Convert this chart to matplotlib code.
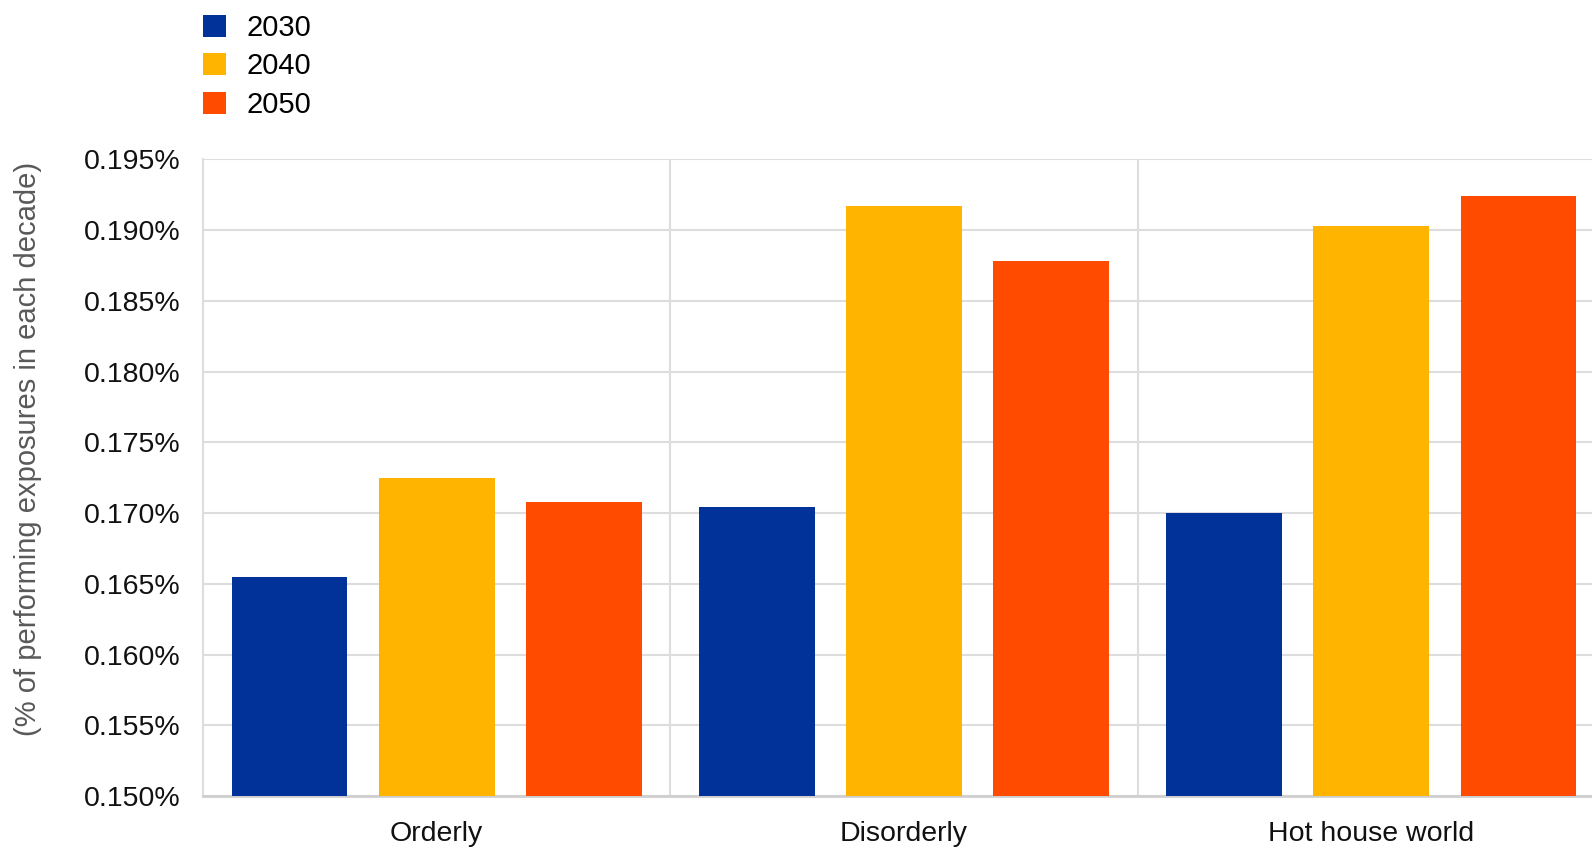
import matplotlib
matplotlib.use("Agg")
import matplotlib.pyplot as plt
from matplotlib.patches import Patch
from matplotlib.ticker import FuncFormatter, MultipleLocator
import numpy as np

scenarios = ["Orderly", "Disorderly", "Hot house world"]
years = ["2030", "2040", "2050"]
values_2030 = [0.1655, 0.1704, 0.1700]
values_2040 = [0.1725, 0.1917, 0.1903]
values_2050 = [0.1708, 0.1878, 0.1924]
colors = ["#003299", "#FFB400", "#FF4B00"]
y_label = "(% of performing exposures in each decade)"

plt.rcParams["font.family"] = ["Liberation Sans", "DejaVu Sans"]

fig = plt.figure(figsize=(15.92, 8.48), dpi=100)
ax = fig.add_axes([203 / 1592, 52 / 848, 1402 / 1592, 636.6 / 848])

series = [values_2030, values_2040, values_2050]
x = np.arange(len(scenarios)) + 0.5
width = 0.2476
offsets = [-0.315, 0.0, 0.315]
for vals, off, col, yr in zip(series, offsets, colors, years):
    ax.bar(x + off, vals, width=width, color=col, label=yr, zorder=3)

ax.set_ylim(0.150, 0.195)
ax.set_xlim(0, 3)
ax.yaxis.set_major_locator(MultipleLocator(0.005))
ax.yaxis.set_major_formatter(FuncFormatter(lambda v, p: f"{v:.3f}%"))
ax.set_xticks(x)
ax.set_xticklabels(scenarios)

grid_col = "#dddddd"
ax.grid(axis="y", color=grid_col, linewidth=1.5, zorder=0)
for gx in [1, 2]:
    ax.axvline(gx, color=grid_col, linewidth=1.5, zorder=0)
for s in ["top", "right"]:
    ax.spines[s].set_visible(False)
ax.spines["left"].set_color(grid_col)
ax.spines["left"].set_linewidth(1.5)
ax.spines["bottom"].set_color("#cfcfcf")
ax.spines["bottom"].set_linewidth(2)

ax.tick_params(axis="both", length=0, labelsize=20.5, labelcolor="#111111")
ax.tick_params(axis="y", pad=16)
ax.tick_params(axis="x", pad=18)

fig.text(28 / 1592, 1 - 449 / 848, y_label, rotation=90, ha="center", va="center",
         fontsize=21, color="#595959")

handles = [Patch(facecolor=c, edgecolor="none") for c in colors]
fig.legend(handles, years, loc="upper left", bbox_to_anchor=(194 / 1592, 1 - 5 / 848),
           frameon=False, fontsize=21, handlelength=0.78, handleheight=0.78,
           handletextpad=0.72, labelspacing=0.36, borderaxespad=0, borderpad=0.3)

fig.savefig("out.png", dpi=100)
